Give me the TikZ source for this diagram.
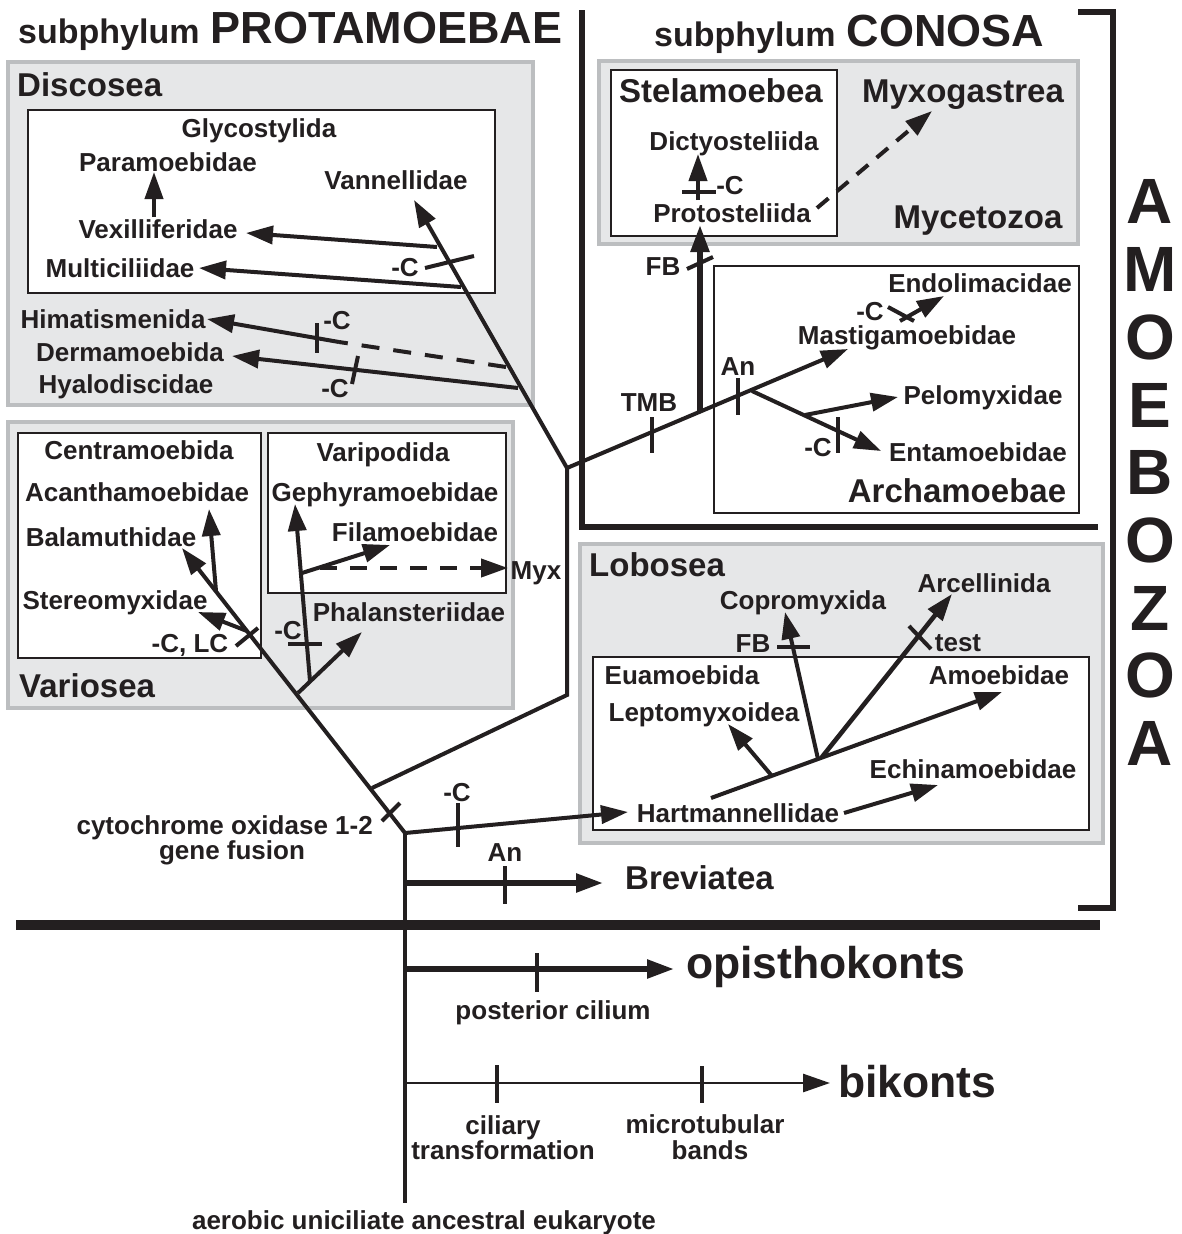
\documentclass[tikz,border=0pt]{standalone}
\usepackage{fontspec}
\setmainfont{Liberation Sans}
\usetikzlibrary{arrows.meta}
\definecolor{ink}{HTML}{231F20}
\definecolor{boxfill}{HTML}{E6E7E8}
\definecolor{boxedge}{HTML}{BCBEC0}
\begin{document}
\begin{tikzpicture}[x=1pt,y=-1pt,
  lbl/.style={font=\bfseries\fontsize{26}{30}\selectfont, text=ink, inner sep=0pt, text height=18.6pt, text depth=0pt},
  biglbl/.style={font=\bfseries\fontsize{33}{38}\selectfont, text=ink, inner sep=0pt, text height=23.6pt, text depth=0pt},
  hugelbl/.style={font=\bfseries\fontsize{44.5}{50}\selectfont, text=ink, inner sep=0pt, text height=31.9pt, text depth=0pt},
  giant/.style={font=\bfseries\fontsize{64}{70}\selectfont, text=ink, inner sep=0pt, text height=45.8pt, text depth=0pt},
  tree/.style={line width=4pt, draw=ink},
  arr/.style={tree, -{Triangle[length=27pt,width=18pt]}},
  tickmark/.style={line width=4pt, draw=ink},
  dashline/.style={dash pattern=on 18pt off 14pt},
  graybox/.style={fill=boxfill, draw=boxedge, line width=4.5pt},
  whitebox/.style={fill=white, draw=ink, line width=1.6pt},
  frame/.style={line width=5.5pt, draw=ink}
]
\useasboundingbox (0,0) rectangle (1182,1234);
\fill[white] (0,0) rectangle (1182,1234);

% ---------- boxes ----------
\draw[graybox] (8,62) rectangle (533,405);
\draw[whitebox] (28,110) rectangle (495,293);
\draw[graybox] (8,422) rectangle (513,708);
\draw[whitebox] (18,433) rectangle (261,658);
\draw[whitebox] (268,433) rectangle (506,593);
\draw[graybox] (599,61) rectangle (1078,244);
\draw[whitebox] (611,70) rectangle (837,236);
\draw[whitebox] (714,266) rectangle (1079,513);
\draw[graybox] (580,544) rectangle (1103,843);
\draw[whitebox] (593,657) rectangle (1089,830);

% ---------- frames ----------
\coordinate (cfTop) at (582,10);
\coordinate (cfCorner) at (582,527);
\coordinate (cfEnd) at (1098,527);
\draw[frame, line join=miter] (cfTop) -- (cfCorner) -- (cfEnd);
\coordinate (brA) at (1078,12);
\coordinate (brB) at (1113,12);
\coordinate (brC) at (1113,908);
\coordinate (brD) at (1078,908);
\draw[frame, line join=miter] (brA) -- (brB) -- (brC) -- (brD);
\coordinate (sepL) at (16,925);
\coordinate (sepR) at (1100,925);
\draw[line width=10pt, draw=ink] (sepL) -- (sepR);

% ---------- trunk ----------
\coordinate (R) at (405,833);
\coordinate (Rbot) at (405,1203);
\draw[tree, line width=3.5pt] (R) -- (Rbot);
\coordinate (BrevS) at (405,883); \coordinate (BrevT) at (603,883);
\draw[arr, line width=5.5pt] (BrevS) -- (BrevT);
\coordinate (bt1) at (505,866); \coordinate (bt2) at (505,904);
\draw[tickmark] (bt1) -- (bt2);
\coordinate (OpS) at (405,969); \coordinate (OpT) at (674,969);
\draw[arr, line width=5.5pt] (OpS) -- (OpT);
\coordinate (ot1) at (537,953); \coordinate (ot2) at (537,992);
\draw[tickmark] (ot1) -- (ot2);
\coordinate (BkS) at (405,1083); \coordinate (BkT) at (830,1083);
\draw[arr, line width=2.8pt] (BkS) -- (BkT);
\coordinate (kt1) at (497,1065); \coordinate (kt2) at (497,1103);
\draw[tickmark] (kt1) -- (kt2);
\coordinate (kt3) at (702,1066); \coordinate (kt4) at (702,1103);
\draw[tickmark] (kt3) -- (kt4);

% ---------- Amoebozoa main ----------
\coordinate (BalT) at (182,548);
\draw[arr] (R) -- (BalT);
\coordinate (cy1) at (382,821); \coordinate (cy2) at (400,803);
\draw[tickmark] (cy1) -- (cy2);
\coordinate (B1) at (372,788);
\coordinate (Vt) at (567,695);
\coordinate (V) at (567,468);
\coordinate (VanT) at (414,200);
\draw[arr, line join=miter] (B1) -- (Vt) -- (V) -- (VanT);
% Lobosea stem
\coordinate (HartT) at (628,812);
\draw[arr] (R) -- (HartT);
\coordinate (lt1) at (458,803); \coordinate (lt2) at (458,847);
\draw[tickmark] (lt1) -- (lt2);

% ---------- Discosea ----------
\coordinate (DermS) at (518,388); \coordinate (DermT) at (232,356);
\draw[arr] (DermS) -- (DermT);
\coordinate (dmt1) at (358,356); \coordinate (dmt2) at (352,384);
\draw[tickmark] (dmt1) -- (dmt2);
\coordinate (HimS) at (506,367); \coordinate (HimM) at (339,342); \coordinate (HimT) at (207,319);
\draw[tree, dashline] (HimS) -- (HimM);
\draw[arr] (HimM) -- (HimT);
\coordinate (hmt1) at (317,323); \coordinate (hmt2) at (317,353);
\draw[tickmark] (hmt1) -- (hmt2);
\coordinate (MultS) at (461,287); \coordinate (MultT) at (199,268);
\draw[arr] (MultS) -- (MultT);
\coordinate (VexS) at (437,247); \coordinate (VexT) at (246,233);
\draw[arr] (VexS) -- (VexT);
\coordinate (dct1) at (425,268); \coordinate (dct2) at (474,256);
\draw[tickmark] (dct1) -- (dct2);
\coordinate (ParaS) at (154,217); \coordinate (ParaT) at (154,172);
\draw[arr] (ParaS) -- (ParaT);

% ---------- Variosea ----------
\coordinate (AcanS) at (216,591); \coordinate (AcanT) at (209,509);
\draw[arr] (AcanS) -- (AcanT);
\coordinate (SterS) at (247,631); \coordinate (SterT) at (198,612);
\draw[arr] (SterS) -- (SterT);
\coordinate (clc1) at (236,646); \coordinate (clc2) at (258,628);
\draw[tickmark] (clc1) -- (clc2);
\coordinate (VarS) at (298,693); \coordinate (PhalT) at (362,632);
\draw[arr] (VarS) -- (PhalT);
\coordinate (GephS) at (310,681); \coordinate (GephT) at (295,504);
\draw[arr] (GephS) -- (GephT);
\coordinate (gt1) at (288,644); \coordinate (gt2) at (322,644);
\draw[tickmark] (gt1) -- (gt2);
\coordinate (FilS) at (302,573); \coordinate (FilT) at (390,545);
\draw[arr] (FilS) -- (FilT);
\coordinate (MyxS) at (320,568); \coordinate (MyxT) at (508,568);
\draw[arr, dash pattern=on 17pt off 13pt] (MyxS) -- (MyxT);

% ---------- Conosa ----------
\coordinate (MastT) at (848,349);
\draw[arr] (V) -- (MastT);
\coordinate (FBS) at (700,412); \coordinate (FBT) at (700,225);
\draw[arr, line width=5.5pt] (FBS) -- (FBT);
\coordinate (fbt1) at (687,269); \coordinate (fbt2) at (713,257);
\draw[tickmark] (fbt1) -- (fbt2);
\coordinate (tmb1) at (652,417); \coordinate (tmb2) at (652,453);
\draw[tickmark] (tmb1) -- (tmb2);
\coordinate (ant1) at (738,378); \coordinate (ant2) at (738,415);
\draw[tickmark] (ant1) -- (ant2);
\coordinate (ArcB) at (752,391); \coordinate (EntT) at (881,451);
\draw[arr] (ArcB) -- (EntT);
\coordinate (PelS) at (805,415); \coordinate (PelT) at (898,397);
\draw[arr] (PelS) -- (PelT);
\coordinate (et1) at (838,417); \coordinate (et2) at (838,453);
\draw[tickmark] (et1) -- (et2);
\coordinate (EndS) at (900,321); \coordinate (EndT) at (944,296);
\draw[arr] (EndS) -- (EndT);
\coordinate (ent1) at (888,307); \coordinate (ent2) at (914,321);
\draw[tickmark] (ent1) -- (ent2);
\coordinate (DicS) at (698,200); \coordinate (DicT) at (698,154);
\draw[arr] (DicS) -- (DicT);
\coordinate (dit1) at (682,192); \coordinate (dit2) at (716,192);
\draw[tickmark] (dit1) -- (dit2);
\coordinate (MxgS) at (817,208); \coordinate (MxgT) at (932,111);
\draw[arr, dash pattern=on 15pt off 11pt] (MxgS) -- (MxgT);

% ---------- Lobosea ----------
\coordinate (HbS) at (711,798); \coordinate (AmT) at (1002,692);
\draw[arr] (HbS) -- (AmT);
\coordinate (LepS) at (772,776); \coordinate (LepT) at (728,724);
\draw[arr] (LepS) -- (LepT);
\coordinate (CopS) at (818,759); \coordinate (CopT) at (785,612);
\draw[arr] (CopS) -- (CopT);
\coordinate (cft1) at (777,647); \coordinate (cft2) at (810,647);
\draw[tickmark] (cft1) -- (cft2);
\coordinate (ArcS) at (822,757); \coordinate (ArcT) at (952,594);
\draw[arr, line width=4.6pt] (ArcS) -- (ArcT);
\coordinate (tt1) at (909,626); \coordinate (tt2) at (931,649);
\draw[tickmark] (tt1) -- (tt2);
\coordinate (EchS) at (844,813); \coordinate (EchT) at (938,785);
\draw[arr] (EchS) -- (EchT);

% ---------- titles ----------
\node[anchor=base west, inner sep=0pt, text=ink, font=\bfseries] (tProt) at (18,43)
  {{\fontsize{34}{40}\selectfont subphylum}\hspace{11pt}{\fontsize{45}{50}\selectfont PROTAMOEBAE}};
\node[anchor=base west, inner sep=0pt, text=ink, font=\bfseries] (tCon) at (654,46)
  {{\fontsize{34}{40}\selectfont subphylum}\hspace{11pt}{\fontsize{45}{50}\selectfont CONOSA}};

% AMOEBOZOA
\foreach \L [count=\i from 0] in {A,M,O,E,B,O,Z,O,A}{
  \node[giant] (amz\i) at (1150,{201+67.7*\i}) {\L};
}

% ---------- labels: Discosea ----------
\node[biglbl, anchor=west] (lDisc) at (17,85) {Discosea};
\node[lbl] (lGly) at (259,128) {Glycostylida};
\node[lbl] (lPara) at (168,162) {Paramoebidae};
\node[lbl] (lVan) at (396,180) {Vannellidae};
\node[lbl] (lVex) at (158,229) {Vexilliferidae};
\node[lbl] (lMult) at (120,268) {Multiciliidae};
\node[lbl] (lDC) at (405,267) {-C};
\node[lbl] (lHim) at (113,319) {Himatismenida};
\node[lbl] (lHC) at (337,320) {-C};
\node[lbl] (lDerm) at (130,352) {Dermamoebida};
\node[lbl] (lHyal) at (126,384) {Hyalodiscidae};
\node[lbl] (lDmC) at (335,388) {-C};

% ---------- labels: Variosea ----------
\node[lbl] (lCent) at (139,450) {Centramoebida};
\node[lbl] (lAcan) at (137,492) {Acanthamoebidae};
\node[lbl] (lBal) at (111,537) {Balamuthidae};
\node[lbl] (lSter) at (115,600) {Stereomyxidae};
\node[lbl] (lCLC) at (190,643) {-C, LC};
\node[biglbl, anchor=west] (lVario) at (19,686) {Variosea};
\node[lbl] (lVarip) at (383,452) {Varipodida};
\node[lbl] (lGeph) at (385,492) {Gephyramoebidae};
\node[lbl] (lFil) at (415,532) {Filamoebidae};
\node[lbl] (lMyx) at (536,570) {Myx};
\node[lbl] (lPhal) at (409,612) {Phalansteriidae};
\node[lbl] (lGC) at (288,630) {-C};

% ---------- labels: Conosa ----------
\node[biglbl] (lStel) at (721,91) {Stelamoebea};
\node[biglbl] (lMyxg) at (963,91) {Myxogastrea};
\node[lbl] (lDict) at (734,141) {Dictyosteliida};
\node[lbl] (lDicC) at (730,185) {-C};
\node[lbl] (lProt) at (732,213) {Protosteliida};
\node[biglbl] (lMyce) at (978,217) {Mycetozoa};
\node[lbl] (lFB) at (663,266) {FB};
\node[lbl] (lTMB) at (649,402) {TMB};
\node[lbl] (lAn) at (738,366) {An};
\node[lbl] (lEndo) at (980,283) {Endolimacidae};
\node[lbl] (lEnC) at (870,311) {-C};
\node[lbl] (lMast) at (907,335) {Mastigamoebidae};
\node[lbl] (lPel) at (983,395) {Pelomyxidae};
\node[lbl] (lEnt) at (978,452) {Entamoebidae};
\node[lbl] (lEtC) at (818,447) {-C};
\node[biglbl] (lArch) at (957,491) {Archamoebae};

% ---------- labels: Lobosea ----------
\node[biglbl, anchor=west] (lLob) at (589,565) {Lobosea};
\node[lbl] (lCop) at (803,600) {Copromyxida};
\node[lbl] (lArc) at (984,583) {Arcellinida};
\node[lbl] (lLFB) at (753,643) {FB};
\node[lbl] (ltest) at (958,642) {test};
\node[lbl] (lEua) at (682,675) {Euamoebida};
\node[lbl] (lAmo) at (999,675) {Amoebidae};
\node[lbl] (lLep) at (704,712) {Leptomyxoidea};
\node[lbl] (lEch) at (973,769) {Echinamoebidae};
\node[lbl] (lHart) at (738,813) {Hartmannellidae};

% ---------- labels: bottom ----------
\node[lbl, anchor=east] (lCyt) at (373,825) {cytochrome oxidase 1-2};
\node[lbl] (lGene) at (232,850) {gene fusion};
\node[lbl] (lLC) at (457,792) {-C};
\node[lbl] (lBAn) at (505,852) {An};
\node[biglbl, anchor=west] (lBrev) at (625,878) {Breviatea};
\node[hugelbl, anchor=west] (lOpis) at (686,963) {opisthokonts};
\node[lbl] (lPost) at (553,1010) {posterior cilium};
\node[hugelbl, anchor=west] (lBik) at (838,1082) {bikonts};
\node[lbl] (lCil) at (503,1125) {ciliary};
\node[lbl] (lTrans) at (503,1150) {transformation};
\node[lbl] (lMicro) at (705,1124) {microtubular};
\node[lbl] (lBands) at (710,1150) {bands};
\node[lbl] (lAer) at (424,1220) {aerobic uniciliate ancestral eukaryote};
\end{tikzpicture}
\end{document}
